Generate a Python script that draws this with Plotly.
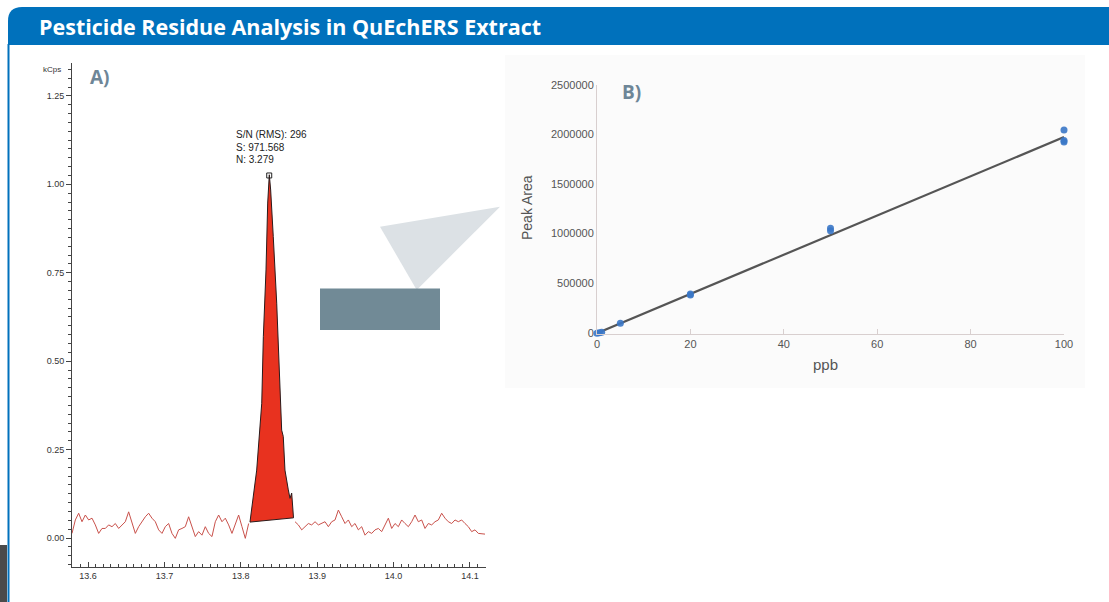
import plotly.graph_objects as go

W, H = 1109, 602

# ---------------- Panel A: chromatogram (kCps vs retention time, min) ----------------
rt_step = 0.004363
noise_pre_start = 13.579
noise_pre = [0.013, 0.051, 0.070, 0.046, 0.065, 0.051, 0.056, 0.037, 0.013, 0.027,
             0.027, 0.037, 0.032, 0.041, 0.027, 0.037, 0.046, 0.074, 0.041, 0.013,
             0.032, 0.046, 0.060, 0.070, 0.056, 0.046, 0.023, 0.013, 0.032, 0.041,
             0.013, -0.001, 0.023, 0.027, 0.032, 0.060, 0.032, 0.004, 0.018, 0.008,
             0.032, 0.013, 0.004, 0.046, 0.065, 0.046, 0.056, 0.037, 0.013, 0.041,
             0.065, 0.032, -0.001, 0.041]
noise_post_start = 13.871
noise_post = [0.046, 0.037, 0.023, 0.032, 0.041, 0.037, 0.046, 0.037, 0.041, 0.046,
              0.032, 0.046, 0.051, 0.079, 0.060, 0.041, 0.051, 0.032, 0.041, 0.023,
              0.032, 0.008, 0.018, 0.013, 0.023, 0.027, 0.018, 0.037, 0.056, 0.027,
              0.041, 0.032, 0.051, 0.041, 0.032, 0.046, 0.065, 0.046, 0.051, 0.027,
              0.041, 0.037, 0.046, 0.051, 0.070, 0.056, 0.046, 0.041, 0.051, 0.046,
              0.051, 0.041, 0.032, 0.018, 0.023, 0.013, 0.013, 0.011]
peak_rt = [13.812, 13.8208, 13.8274, 13.8295, 13.8330, 13.8352, 13.8373, 13.8391,
           13.8425, 13.8470, 13.8504, 13.8535, 13.8556, 13.8578, 13.8622, 13.8644,
           13.8666, 13.869, 13.812]
peak_kcps = [0.045, 0.192, 0.381, 0.569, 0.758, 0.947, 1.027, 0.984,
             0.852, 0.664, 0.475, 0.305, 0.287, 0.192, 0.136, 0.112,
             0.127, 0.057, 0.045]
apex_rt = [13.8372]
apex_kcps = [1.025]
sn_lines = ["S/N (RMS): 296", "S: 971.568", "N: 3.279"]
a_yticks = [0.00, 0.25, 0.50, 0.75, 1.00, 1.25]
a_xticks = [13.6, 13.7, 13.8, 13.9, 14.0, 14.1]

# ---------------- Panel B: calibration ----------------
conc_ppb = [0, 0.5, 1, 5, 20, 20, 50, 50, 100, 100, 100]
peak_area = [-5000, 0, 5000, 95000, 380000, 390000, 1030000, 1055000, 2045000, 1940000, 1925000]
fit_ppb = [0, 100]
fit_area = [-5000, 1975000]
b_xticks = [0, 20, 40, 60, 80, 100]
b_yticks = [0, 500000, 1000000, 1500000, 2000000, 2500000]

title_text = "Pesticide Residue Analysis in QuEchERS Extract"


def px(x):
    return x / W


def py(y):
    return 1 - y / H


fig = go.Figure()

# noise traces
fig.add_trace(go.Scatter(
    x=[noise_pre_start + i * rt_step for i in range(len(noise_pre))], y=noise_pre,
    mode="lines", line=dict(color="#C9514B", width=1), xaxis="x", yaxis="y",
    showlegend=False, hoverinfo="skip"))
fig.add_trace(go.Scatter(
    x=[noise_post_start + i * rt_step for i in range(len(noise_post))], y=noise_post,
    mode="lines", line=dict(color="#C9514B", width=1), xaxis="x", yaxis="y",
    showlegend=False, hoverinfo="skip"))
# peak
fig.add_trace(go.Scatter(
    x=peak_rt, y=peak_kcps, mode="lines", fill="toself", fillcolor="#E8321F",
    line=dict(color="#2a1a1a", width=1), xaxis="x", yaxis="y", showlegend=False))
fig.add_trace(go.Scatter(
    x=apex_rt, y=apex_kcps, mode="markers",
    marker=dict(symbol="square-open", size=5, color="#222", line=dict(width=1)),
    xaxis="x", yaxis="y", showlegend=False, cliponaxis=False))

# calibration
fig.add_trace(go.Scatter(
    x=fit_ppb, y=fit_area, mode="lines", line=dict(color="#555555", width=2.2),
    xaxis="x2", yaxis="y2", showlegend=False, cliponaxis=False))
fig.add_trace(go.Scatter(
    x=conc_ppb, y=peak_area, mode="markers",
    marker=dict(color="#3A77C6", size=7, opacity=0.9),
    xaxis="x2", yaxis="y2", showlegend=False, cliponaxis=False))

shapes = []
# panel B background
shapes.append(dict(type="rect", xref="paper", yref="paper",
                   x0=px(505), x1=px(1085), y0=py(388), y1=py(55),
                   fillcolor="#FBFBFB", line=dict(width=0), layer="below"))
# header band with rounded top-left corner
r = 14
x0, x1, y0, y1 = 8, 1109, 7, 45
path = (f"M {px(x0)},{py(y1)} L {px(x0)},{py(y0 + r)} "
        f"Q {px(x0)},{py(y0)} {px(x0 + r)},{py(y0)} "
        f"L {px(x1)},{py(y0)} L {px(x1)},{py(y1)} Z")
shapes.append(dict(type="path", xref="paper", yref="paper", path=path,
                   fillcolor="#0071BC", line=dict(width=0)))
# left border line
shapes.append(dict(type="line", xref="paper", yref="paper",
                   x0=px(8.5), x1=px(8.5), y0=py(44), y1=py(602),
                   line=dict(color="#0071BC", width=2)))
# dark corner at bottom-left
shapes.append(dict(type="rect", xref="paper", yref="paper",
                   x0=0, x1=px(7), y0=0, y1=py(545),
                   fillcolor="#4a4a4a", line=dict(width=0)))
# callout triangle and box
tri = (f"M {px(380)},{py(226.7)} L {px(500)},{py(206.7)} L {px(416.7)},{py(290)} Z")
shapes.append(dict(type="path", xref="paper", yref="paper", path=tri,
                   fillcolor="#DCE1E5", line=dict(width=0)))
shapes.append(dict(type="rect", xref="paper", yref="paper",
                   x0=px(320), x1=px(440), y0=py(330), y1=py(288.5),
                   fillcolor="#718A96", line=dict(width=0)))

annotations = []
annotations.append(dict(text=title_text, xref="paper", yref="paper",
                        x=px(37), y=py(26.5), xanchor="left", yanchor="middle",
                        showarrow=False,
                        font=dict(family="Open Sans", size=21.5, color="white", weight="bold")))
annotations.append(dict(text="A)", xref="paper", yref="paper", x=px(100), y=py(77),
                        xanchor="center", yanchor="middle", showarrow=False,
                        font=dict(family="Open Sans", size=19, color="#6E8697", weight="bold")))
annotations.append(dict(text="B)", xref="paper", yref="paper", x=px(631), y=py(92),
                        xanchor="center", yanchor="middle", showarrow=False,
                        font=dict(family="Open Sans", size=19, color="#6E8697", weight="bold")))
annotations.append(dict(text="kCps", xref="paper", yref="paper", x=px(52), y=py(70),
                        xanchor="center", yanchor="middle", showarrow=False,
                        font=dict(family="Liberation Sans, Arial", size=8, color="#333")))
for i, line in enumerate(sn_lines):
    annotations.append(dict(text=line, xref="paper", yref="paper",
                            x=px(234), y=py(135 + 12 * i), xanchor="left", yanchor="middle",
                            showarrow=False,
                            font=dict(family="Liberation Sans, Arial", size=10, color="#222")))
annotations.append(dict(text="Peak Area", xref="paper", yref="paper", x=px(527), y=py(208),
                        xanchor="center", yanchor="middle", textangle=-90, showarrow=False,
                        font=dict(family="Liberation Sans, Arial", size=14, color="#555")))
annotations.append(dict(text="ppb", xref="paper", yref="paper", x=px(825), y=py(364),
                        xanchor="center", yanchor="middle", showarrow=False,
                        font=dict(family="Liberation Sans, Arial", size=15, color="#555")))

fig.update_layout(
    width=W, height=H, autosize=False,
    margin=dict(l=0, r=0, t=0, b=0, pad=0),
    paper_bgcolor="white", plot_bgcolor="rgba(0,0,0,0)",
    shapes=shapes, annotations=annotations, showlegend=False,
    xaxis=dict(domain=[px(72), px(486)], range=[13.579, 14.121], anchor="y",
               automargin=False,
               showline=True, linecolor="#444", linewidth=1,
               tickvals=a_xticks, tickformat=".1f", ticks="inside", ticklen=5,
               tickcolor="#444",
               minor=dict(dtick=0.01, tick0=13.6, ticks="inside", ticklen=3, tickcolor="#444"),
               tickfont=dict(family="Liberation Sans, Arial", size=9, color="#333"),
               showgrid=False, zeroline=False),
    yaxis=dict(domain=[py(567), py(63)], range=[-0.082, 1.343], anchor="x",
               automargin=False,
               showline=True, linecolor="#444", linewidth=1,
               tickvals=a_yticks, tickformat=".2f", ticks="outside", ticklen=5,
               tickcolor="#444",
               minor=dict(dtick=0.025, tick0=0, ticks="outside", ticklen=3, tickcolor="#444"),
               tickfont=dict(family="Liberation Sans, Arial", size=9, color="#333"),
               showgrid=False, zeroline=False),
    xaxis2=dict(domain=[px(597), px(1064)], range=[0, 100], anchor="y2",
                automargin=False,
                showline=True, linecolor="#D8CFCF", linewidth=1,
                tickvals=b_xticks, ticks="inside", ticklen=5, tickcolor="#D8CFCF",
                tickfont=dict(family="Liberation Sans, Arial", size=11, color="#555"),
                showgrid=False, zeroline=False),
    yaxis2=dict(domain=[py(334), py(85)], range=[-13000, 2500000], anchor="x2",
                automargin=False,
                showline=True, linecolor="#D8CFCF", linewidth=1,
                tickvals=b_yticks, tickformat="d", ticks="",
                tickfont=dict(family="Liberation Sans, Arial", size=11, color="#555"),
                showgrid=False, zeroline=False),
)

# Reset the page margin synchronously (right after the plot call) so the
# 1109x602 figure fills the browser window exactly.
page_reset = ("}); document.body.style.margin='0'; "
              "document.body.style.overflow='hidden'; "
              "document.documentElement.style.overflow='hidden'; (function(){")
fig.write_html("out.html", config={"displayModeBar": False}, post_script=page_reset)
